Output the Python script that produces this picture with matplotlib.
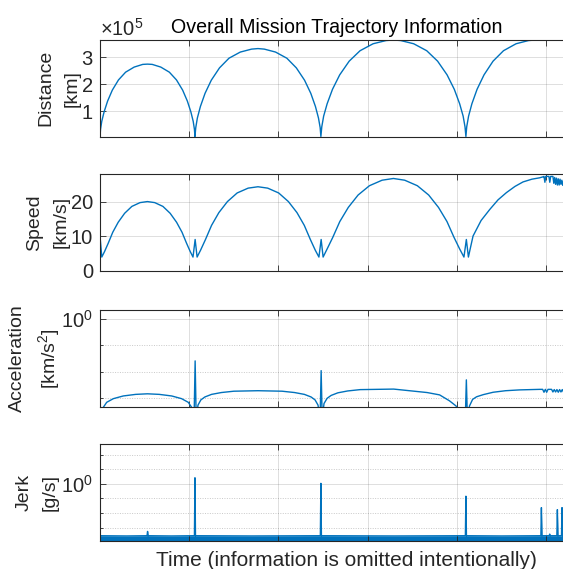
import matplotlib
matplotlib.use('Agg')
import matplotlib.pyplot as plt
from matplotlib.ticker import FixedLocator, LogFormatterMathtext, NullFormatter

plt.rcParams['font.family'] = ['Liberation Sans', 'DejaVu Sans']
plt.rcParams['mathtext.fontset'] = 'custom'
plt.rcParams['mathtext.rm'] = 'Liberation Sans'
plt.rcParams['mathtext.it'] = 'Liberation Sans:italic'
plt.rcParams['mathtext.bf'] = 'Liberation Sans:bold'

# time axis is unlabelled in the original, so units are just tick steps
t_dist = [0.000, 0.006, 0.020, 0.046, 0.085, 0.138, 0.207, 0.287, 0.383, 0.479, 0.532,
          0.585, 0.681, 0.777, 0.857, 0.926, 0.979, 1.018, 1.044, 1.058, 1.064,
          1.073, 1.091, 1.125, 1.177, 1.247, 1.339, 1.445, 1.572, 1.699, 1.770,
          1.841, 1.967, 2.094, 2.200, 2.292, 2.362, 2.414, 2.448, 2.467, 2.475,
          2.485, 2.506, 2.545, 2.605, 2.686, 2.792, 2.914, 3.060, 3.206, 3.288,
          3.369, 3.515, 3.661, 3.783, 3.889, 3.970, 4.030, 4.069, 4.090, 4.100,
          4.109, 4.130, 4.167, 4.225, 4.303, 4.404, 4.521, 4.662, 4.802, 4.880, 5.200, 5.600]
dist_km = [5000, 32000, 62000, 97000, 137000, 178000, 216000, 245000, 264000, 274000, 275000,
           274000, 264000, 245000, 216000, 178000, 137000, 97000, 62000, 32000, 5000,
           38000, 74000, 117000, 166000, 215000, 261000, 297000, 320000, 331000, 333000,
           331000, 320000, 297000, 261000, 215000, 166000, 117000, 74000, 38000, 5000,
           41000, 81000, 127000, 181000, 235000, 286000, 325000, 351000, 363000, 365000,
           363000, 351000, 325000, 286000, 235000, 181000, 127000, 81000, 41000, 5000,
           41000, 81000, 127000, 181000, 235000, 286000, 325000, 351000, 363000, 365000, 365000, 365000]

t_speed = [0.000, 0.000, 0.020, 0.051, 0.092, 0.143, 0.204, 0.276, 0.357, 0.449, 0.531,
           0.613, 0.705, 0.786, 0.858, 0.919, 0.970, 1.011, 1.042, 1.066, 1.088,
           1.127, 1.182, 1.250, 1.332, 1.428, 1.537, 1.660, 1.770, 1.879, 2.002,
           2.111, 2.207, 2.289, 2.357, 2.412, 2.453, 2.478, 2.500,
           2.544, 2.608, 2.687, 2.782, 2.892, 3.019, 3.161, 3.288, 3.414, 3.556,
           3.683, 3.793, 3.888, 3.967, 4.031, 4.078, 4.105, 4.128,
           4.150, 4.180, 4.270, 4.367, 4.460, 4.554, 4.650, 4.740, 4.840, 4.927,
           4.967, 4.975, 4.985, 4.995, 5.030, 5.040, 5.050, 5.075, 5.085, 5.095,
           5.105, 5.115, 5.125, 5.135, 5.145, 5.155, 5.165, 5.175, 5.185, 5.195, 5.205, 5.215]
speed_kms = [0.0, 10.0, 3.9, 5.5, 7.9, 11.1, 14.0, 16.6, 18.6, 19.7, 20.0,
             19.7, 18.6, 16.6, 14.0, 11.1, 7.9, 5.5, 3.9, 9.0, 3.9,
             5.9, 9.0, 13.1, 16.8, 20.0, 22.5, 23.9, 24.3, 23.9, 22.5,
             20.0, 16.8, 13.1, 9.0, 5.9, 3.9, 9.0, 3.9,
             6.2, 9.6, 14.2, 18.3, 21.9, 24.6, 26.2, 26.7, 26.2, 24.6,
             21.9, 18.3, 14.2, 9.6, 6.2, 3.9, 9.0, 3.9,
             6.5, 10.0, 14.5, 17.7, 20.5, 22.6, 24.4, 25.7, 26.5, 26.9,
             27.2, 27.3, 25.6, 27.3, 27.3, 25.6, 27.3, 27.3, 25.3, 27.0,
             25.0, 26.8, 24.8, 26.6, 24.8, 26.5, 25.0, 26.2, 24.7, 26.0, 24.8, 26.0]

t_acc = [0.000, 0.004, 0.030, 0.075, 0.150, 0.260, 0.400, 0.532, 0.664, 0.804, 0.914,
         0.989, 1.034, 1.054, 1.066, 1.078,
         1.098, 1.130, 1.175, 1.250, 1.360, 1.500, 1.770, 2.040, 2.180, 2.290,
         2.365, 2.410, 2.443, 2.466, 2.478, 2.490,
         2.510, 2.545, 2.590, 2.665, 2.775, 2.915, 3.290, 3.665, 3.805, 3.915,
         3.990, 4.035, 4.070, 4.093, 4.105, 4.117,
         4.140, 4.175, 4.220, 4.295, 4.405, 4.545, 4.700, 4.930, 4.960, 4.975,
         4.990, 5.005, 5.020, 5.060, 5.075, 5.090, 5.105, 5.120, 5.135, 5.150,
         5.165, 5.180, 5.195, 5.215]
acc_kms2 = [10.0, 2.0e-4, 4.1e-4, 6.9e-4, 9.5e-4, 1.20e-3, 1.38e-3, 1.45e-3, 1.38e-3, 1.20e-3, 9.5e-4,
            6.9e-4, 4.1e-4, 1.6e-4, 0.0257, 1.6e-4,
            5.4e-4, 8.5e-4, 1.10e-3, 1.38e-3, 1.62e-3, 1.82e-3, 1.90e-3, 1.82e-3, 1.62e-3, 1.38e-3,
            1.10e-3, 8.5e-4, 5.4e-4, 1.6e-4, 0.011, 1.6e-4,
            6.2e-4, 9.8e-4, 1.26e-3, 1.58e-3, 1.86e-3, 2.09e-3, 2.19e-3, 1.62e-3, 1.32e-3, 7.9e-4,
            5.0e-4, 2.5e-4, 1.6e-4, 1.6e-4, 0.0049, 1.6e-4,
            5.0e-4, 8.9e-4, 1.12e-3, 1.35e-3, 1.66e-3, 1.90e-3, 2.04e-3, 2.14e-3, 2.14e-3, 1.66e-3,
            2.14e-3, 1.66e-3, 2.14e-3, 2.14e-3, 1.70e-3, 2.10e-3, 1.70e-3, 2.10e-3, 1.66e-3, 2.10e-3,
            1.70e-3, 2.10e-3, 1.66e-3, 2.10e-3]

t_jerk = [0.000, 0.300, 0.527, 0.533, 0.539, 0.800, 1.058, 1.064, 1.070, 1.700,
          2.469, 2.475, 2.481, 3.300, 4.094, 4.100, 4.106, 4.500, 4.940, 4.946,
          4.952, 5.033, 5.039, 5.045, 5.119, 5.125, 5.131, 5.171, 5.177, 5.183, 5.300]
jerk_gs = [2.8e-4, 2.7e-4, 2.8e-4, 5.5e-4, 2.8e-4, 2.7e-4, 2.8e-4, 2.57, 2.8e-4, 2.7e-4,
           2.8e-4, 1.07, 2.8e-4, 2.7e-4, 2.8e-4, 0.141, 2.8e-4, 2.7e-4, 2.8e-4, 0.0234,
           2.8e-4, 2.8e-4, 3.6e-4, 2.8e-4, 2.8e-4, 0.017, 2.8e-4, 2.8e-4, 0.0234, 2.8e-4, 2.8e-4]

x_ticks = [0, 1, 2, 3, 4, 5]
line_color = '#0072BD'
axis_color = '#262626'
tick_fs = 14.5
label_fs = 14

fig = plt.figure(figsize=(5.63, 5.69), dpi=100)
W, H = 563.0, 569.0
left_px, right_px = 100, 573
tops = [40, 174, 310, 444]
height_px = 96.5
# anchor of each two-line y label, pixels from the figure's left
label_edge_px = [81, 70, 62, 59]
label_spacing = [1.75, 1.75, 1.55, 1.75]

axes = []
for top, edge in zip(tops, label_edge_px):
    ax = fig.add_axes([left_px / W, 1 - (top + height_px) / H,
                       (right_px - left_px) / W, height_px / H])
    ax.set_xlim(0, 5.3)
    ax.set_xticks(x_ticks)
    ax.tick_params(which='both', direction='in', top=True, right=True,
                   labelbottom=False, colors=axis_color, labelcolor=axis_color,
                   labelsize=tick_fs, width=0.6, pad=5)
    ax.tick_params(which='major', length=4)
    ax.tick_params(which='minor', length=2)
    ax.grid(True, which='major', color=axis_color, alpha=0.15, linewidth=0.7)
    for sp in ax.spines.values():
        sp.set_color(axis_color)
        sp.set_linewidth(0.8)
    ax.yaxis.set_label_coords((edge - left_px) / (right_px - left_px), 0.5)
    axes.append(ax)

ax1, ax2, ax3, ax4 = axes

# distance
ax1.plot(t_dist, dist_km, color=line_color, lw=1.0)
ax1.set_ylim(5000, 365000)
ax1.set_yticks([100000, 200000, 300000])
ax1.ticklabel_format(axis='y', style='sci', scilimits=(0, 0), useMathText=True)
ax1.yaxis.get_offset_text().set_fontsize(tick_fs)
ax1.yaxis.get_offset_text().set_color(axis_color)
ax1.set_title('Overall Mission Trajectory Information', fontsize=14.1, color='black', pad=5)

# speed
ax2.plot(t_speed, speed_kms, color=line_color, lw=1.0)
ax2.set_ylim(0, 28)
ax2.set_yticks([0, 10, 20])

# acceleration (log)
ax3.plot(t_acc, acc_kms2, color=line_color, lw=1.0)
ax3.set_yscale('log')
ax3.set_ylim(10 ** -3.32, 10 ** 0.34)
ax3.yaxis.set_major_locator(FixedLocator([1.0]))
ax3.yaxis.set_major_formatter(LogFormatterMathtext())
ax3.yaxis.set_minor_locator(FixedLocator([1e-3, 1e-2, 1e-1]))
ax3.yaxis.set_minor_formatter(NullFormatter())
ax3.grid(True, which='minor', axis='y', color=axis_color, alpha=0.25,
         linewidth=0.7, linestyle=(0, (1, 1.5)))

# jerk (log)
ax4.fill_between(t_jerk, 1e-6, jerk_gs, color=line_color, lw=0)
ax4.plot(t_jerk, jerk_gs, color=line_color, lw=1.0)
ax4.set_yscale('log')
ax4.set_ylim(10 ** -3.88, 10 ** 2.72)
ax4.yaxis.set_major_locator(FixedLocator([1.0]))
ax4.yaxis.set_major_formatter(LogFormatterMathtext())
ax4.yaxis.set_minor_locator(FixedLocator([1e-3, 1e-2, 1e-1, 1e1, 1e2]))
ax4.yaxis.set_minor_formatter(NullFormatter())
ax4.grid(True, which='minor', axis='y', color=axis_color, alpha=0.25,
         linewidth=0.7, linestyle=(0, (1, 1.5)))
ax4.set_xlabel('Time (information is omitted intentionally)', fontsize=15,
               color=axis_color)
ax4.xaxis.set_label_coords(0.52, -0.11)

y_labels = ['Distance\n[km]', 'Speed\n[km/s]', 'Acceleration\n[km/s$^2$]', 'Jerk\n[g/s]']
for ax, lab, ls in zip(axes, y_labels, label_spacing):
    ax.set_ylabel(lab, fontsize=label_fs, linespacing=ls, color=axis_color)

fig.savefig('out.png', dpi=100)
